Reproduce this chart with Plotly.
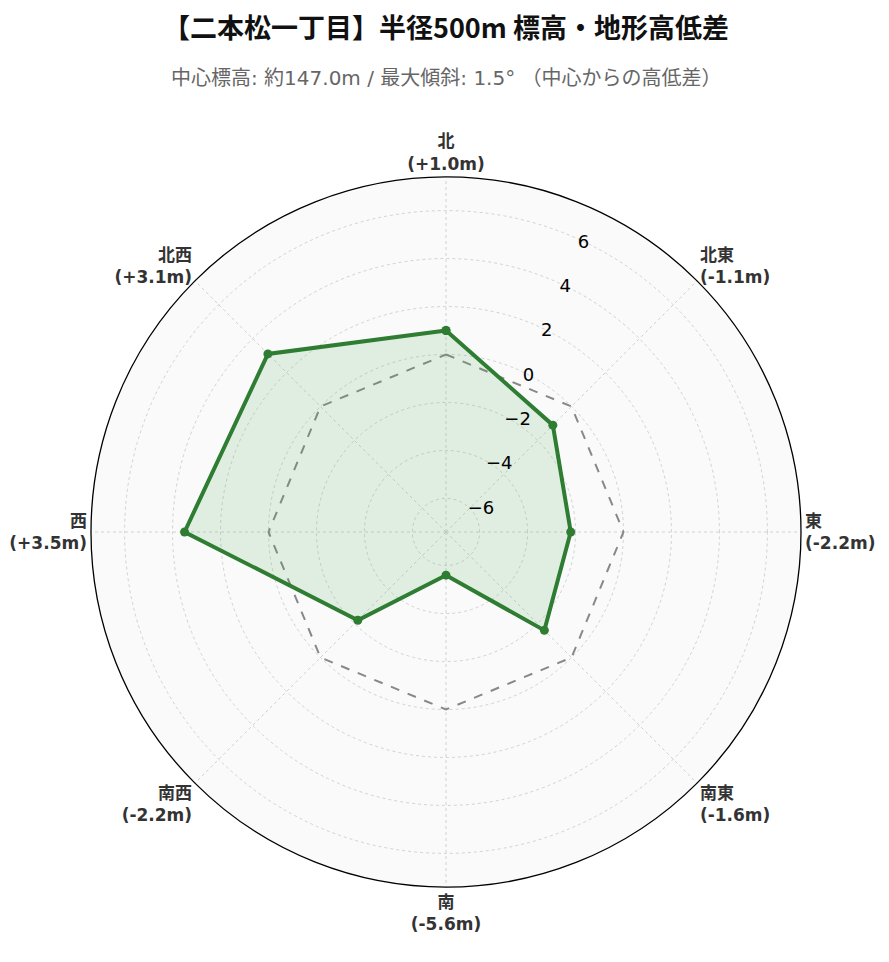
import plotly.graph_objects as go

directions = ["北", "北東", "東", "南東", "南", "南西", "西", "北西"]
angles = [0, 45, 90, 135, 180, 225, 270, 315]
diffs = [1.0, -1.1, -2.2, -1.6, -5.6, -2.2, 3.5, 3.1]
zero_ref = [0, 0, 0, 0, 0, 0, 0, 0]
radial_ticks = [-6, -4, -2, 0, 2, 4, 6]
radial_range = [-7.4, 7.4]

title = "【二本松一丁目】半径500m 標高・地形高低差"
subtitle = "中心標高: 約147.0m / 最大傾斜: 1.5° （中心からの高低差）"

labels = [f"<b>{d}<br>({v:+.1f}m)</b>" for d, v in zip(directions, diffs)]

FONT = "DejaVu Sans, Noto Sans CJK JP, sans-serif"
CJK = "Noto Sans CJK JP, DejaVu Sans, sans-serif"

W, H = 889, 962
ML, MR, MT, MB = 83, 96, 169, 83

fig = go.Figure()
fig.add_trace(go.Scatterpolar(
    r=zero_ref + [zero_ref[0]], theta=angles + [angles[0]],
    mode="lines", line=dict(color="#888888", width=2, dash="dash"),
    hoverinfo="skip", showlegend=False))
fig.add_trace(go.Scatterpolar(
    r=diffs + [diffs[0]], theta=angles + [angles[0]],
    mode="lines+markers", fill="toself",
    fillcolor="rgba(76,175,80,0.15)",
    line=dict(color="#2e7d32", width=4),
    marker=dict(size=9, color="#2e7d32"),
    showlegend=False))

plot_h = H - MT - MB
def ypix(py):
    return (H - MB - py) / plot_h

fig.update_layout(
    width=W, height=H,
    paper_bgcolor="white",
    margin=dict(l=ML, r=MR, t=MT, b=MB),
    font=dict(family=FONT),
    polar=dict(
        bgcolor="#fafafa",
        angularaxis=dict(
            rotation=90, direction="clockwise",
            tickvals=angles, ticktext=labels,
            tickfont=dict(size=17, color="#333333", family=FONT),
            showline=True, linecolor="black", linewidth=1.3,
            showgrid=True, gridcolor="#d2d2d2", griddash="dot", gridwidth=1,
            ticks="",
        ),
        radialaxis=dict(
            range=radial_range, tickvals=radial_ticks,
            angle=67.5, tickangle=67.5,
            tickfont=dict(size=18, color="black", family="DejaVu Sans"),
            showline=False, ticks="",
            showgrid=True, gridcolor="#d2d2d2", griddash="dot", gridwidth=1,
        ),
    ),
)

fig.add_annotation(text=f"<b>{title}</b>", x=0.5, y=ypix(18), xref="paper", yref="paper",
                   showarrow=False, font=dict(size=27, color="#111111", family=CJK),
                   yanchor="middle")
fig.add_annotation(text=subtitle, x=0.5, y=ypix(70), xref="paper", yref="paper",
                   showarrow=False, font=dict(size=20, color="#666666", family=FONT),
                   yanchor="middle")

fig.write_html("out.html")
